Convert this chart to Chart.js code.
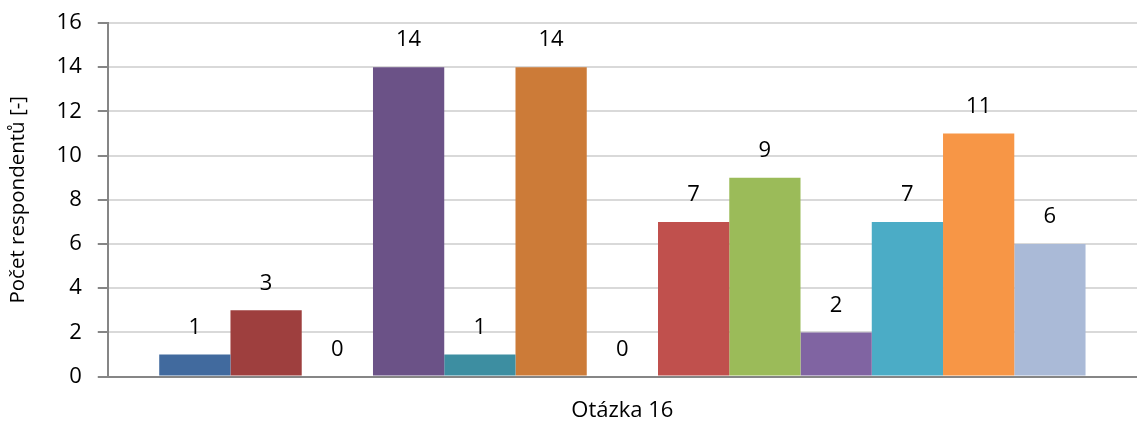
<!DOCTYPE html>
<html>
<head>
<meta charset="utf-8">
<script src="https://cdn.jsdelivr.net/npm/chart.js@4"></script>
<style>
  body { margin: 0; background: #fff; }
  canvas { display: block; }
</style>
</head>
<body>
<canvas id="chart" width="1137" height="427"></canvas>
<script>
const categories = ["Otázka 16"];
const seriesValues = [1, 3, 0, 14, 1, 14, 0, 7, 9, 2, 7, 11, 6];
const seriesColors = [
  "#416A9E", "#9E3F3E", "#7E9A45", "#6B5287", "#3D8EA1", "#CC7B38", "#4F81BD",
  "#C0504D", "#9BBB59", "#8064A2", "#4BACC6", "#F79646", "#AABAD7"
];
const yTicks = [0, 2, 4, 6, 8, 10, 12, 14, 16];

const fontFamily = "'Open Sans', sans-serif";

// draw value above each bar
const valueLabels = {
  id: "valueLabels",
  afterDatasetsDraw(chart) {
    const ctx = chart.ctx;
    ctx.save();
    ctx.font = "22px " + fontFamily;
    ctx.fillStyle = "#000";
    ctx.textAlign = "center";
    ctx.textBaseline = "middle";
    chart.data.datasets.forEach((ds, i) => {
      const bar = chart.getDatasetMeta(i).data[0];
      ctx.fillText(String(ds.data[0]), bar.x, bar.y - 27);
    });
    ctx.restore();
  }
};

const datasets = seriesValues.map((v, i) => ({
  label: "S" + (i + 1),
  data: [v],
  backgroundColor: seriesColors[i],
  borderWidth: 0,
  barPercentage: 1,
  categoryPercentage: 0.9
}));

new Chart(document.getElementById("chart"), {
  type: "bar",
  data: { labels: categories, datasets: datasets },
  options: {
    responsive: false,
    animation: false,
    layout: { padding: { top: 23, right: -10, left: 6, bottom: -10 } },
    plugins: { legend: { display: false }, tooltip: { enabled: false } },
    scales: {
      x: {
        grid: { display: false },
        border: { color: "#868686", width: 2 },
        ticks: { color: "#000", font: { size: 22, family: fontFamily }, padding: 13 }
      },
      y: {
        min: 0,
        max: 16,
        afterBuildTicks(axis) { axis.ticks = yTicks.map(v => ({ value: v })); },
        afterFit(axis) { axis.paddingTop = 0; axis.paddingBottom = 0; },
        grid: { color: "#D9D9D9", lineWidth: 2, tickLength: 10, tickColor: "#868686" },
        border: { color: "#868686", width: 2 },
        ticks: { color: "#000", font: { size: 22, family: fontFamily }, padding: 16 },
        title: {
          display: true,
          text: "Počet respondentů [-]",
          color: "#000",
          font: { size: 20.5, family: fontFamily },
          padding: { top: 0, bottom: 10 }
        }
      }
    }
  },
  plugins: [valueLabels]
});
</script>
</body>
</html>
